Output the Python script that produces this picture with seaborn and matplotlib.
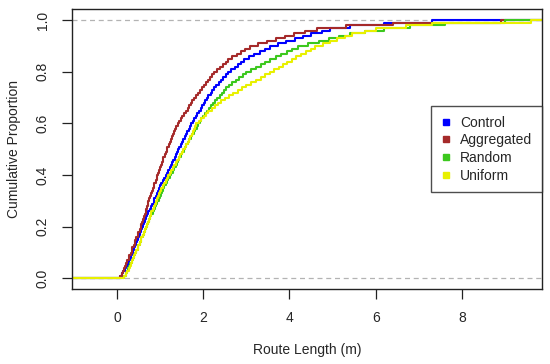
import numpy as np
import pandas as pd
import matplotlib
matplotlib.use("Agg")
import matplotlib.pyplot as plt
import seaborn as sns

# route lengths (m), 100 per group
control = [0.08, 0.12, 0.15, 0.19, 0.22, 0.25, 0.28, 0.30, 0.33, 0.36,
           0.38, 0.40, 0.43, 0.45, 0.47, 0.49, 0.51, 0.54, 0.56, 0.58,
           0.60, 0.63, 0.65, 0.68, 0.70, 0.73, 0.76, 0.79, 0.82, 0.85,
           0.87, 0.90, 0.92, 0.95, 0.97, 1.00, 1.03, 1.07, 1.10, 1.13,
           1.16, 1.19, 1.22, 1.25, 1.28, 1.31, 1.34, 1.36, 1.39, 1.42,
           1.45, 1.48, 1.51, 1.54, 1.57, 1.60, 1.63, 1.66, 1.69, 1.72,
           1.76, 1.79, 1.83, 1.86, 1.90, 1.94, 1.97, 2.01, 2.04, 2.08,
           2.12, 2.17, 2.21, 2.26, 2.30, 2.36, 2.41, 2.47, 2.52, 2.58,
           2.65, 2.73, 2.80, 2.88, 2.95, 3.07, 3.19, 3.31, 3.43, 3.55,
           3.74, 3.93, 4.12, 4.31, 4.50, 4.75, 4.95, 5.40, 6.20, 7.30]
aggregated = [0.07, 0.12, 0.14, 0.17, 0.19, 0.22, 0.24, 0.27, 0.29, 0.32,
              0.34, 0.36, 0.39, 0.41, 0.43, 0.45, 0.48, 0.50, 0.53, 0.55,
              0.57, 0.59, 0.61, 0.63, 0.65, 0.67, 0.68, 0.70, 0.71, 0.73,
              0.75, 0.77, 0.79, 0.81, 0.83, 0.85, 0.87, 0.90, 0.92, 0.94,
              0.96, 0.98, 1.00, 1.02, 1.04, 1.06, 1.08, 1.11, 1.13, 1.15,
              1.17, 1.20, 1.22, 1.25, 1.27, 1.30, 1.33, 1.35, 1.38, 1.41,
              1.45, 1.49, 1.52, 1.56, 1.60, 1.64, 1.67, 1.71, 1.74, 1.78,
              1.83, 1.88, 1.92, 1.97, 2.02, 2.07, 2.12, 2.16, 2.21, 2.26,
              2.32, 2.39, 2.45, 2.52, 2.58, 2.68, 2.78, 2.88, 2.98, 3.08,
              3.28, 3.49, 3.69, 3.90, 4.10, 4.35, 4.65, 5.30, 6.40, 8.90]
random_ = [0.17, 0.20, 0.23, 0.26, 0.28, 0.31, 0.34, 0.37, 0.40, 0.43,
           0.45, 0.48, 0.50, 0.53, 0.55, 0.57, 0.60, 0.62, 0.65, 0.67,
           0.70, 0.72, 0.75, 0.77, 0.80, 0.83, 0.86, 0.88, 0.91, 0.94,
           0.97, 0.99, 1.02, 1.04, 1.07, 1.10, 1.13, 1.16, 1.19, 1.22,
           1.25, 1.29, 1.32, 1.36, 1.39, 1.42, 1.45, 1.49, 1.52, 1.55,
           1.58, 1.61, 1.65, 1.68, 1.71, 1.74, 1.78, 1.81, 1.85, 1.88,
           1.92, 1.96, 2.00, 2.04, 2.08, 2.13, 2.18, 2.22, 2.27, 2.32,
           2.38, 2.43, 2.49, 2.54, 2.60, 2.68, 2.76, 2.84, 2.92, 3.00,
           3.11, 3.22, 3.33, 3.44, 3.55, 3.68, 3.81, 3.94, 4.07, 4.20,
           4.44, 4.68, 4.92, 5.16, 5.40, 5.75, 6.20, 6.80, 7.60, 9.00]
uniform = [0.16, 0.21, 0.24, 0.27, 0.30, 0.33, 0.35, 0.38, 0.40, 0.43,
           0.45, 0.48, 0.50, 0.53, 0.55, 0.57, 0.60, 0.62, 0.65, 0.67,
           0.69, 0.71, 0.74, 0.76, 0.78, 0.80, 0.83, 0.85, 0.88, 0.90,
           0.93, 0.95, 0.98, 1.00, 1.03, 1.06, 1.09, 1.13, 1.16, 1.19,
           1.23, 1.26, 1.30, 1.33, 1.37, 1.40, 1.44, 1.47, 1.51, 1.54,
           1.57, 1.60, 1.64, 1.67, 1.70, 1.73, 1.76, 1.78, 1.81, 1.84,
           1.90, 1.95, 2.01, 2.06, 2.12, 2.20, 2.27, 2.35, 2.42, 2.50,
           2.60, 2.70, 2.80, 2.90, 3.00, 3.11, 3.22, 3.33, 3.44, 3.55,
           3.65, 3.75, 3.85, 3.95, 4.05, 4.16, 4.27, 4.38, 4.49, 4.60,
           4.77, 4.94, 5.11, 5.28, 5.45, 5.75, 6.00, 6.70, 7.30, 9.60]

groups = ["Control", "Aggregated", "Random", "Uniform"]
colors = ["#0000FF", "#A52A2A", "#3CC81E", "#E8F000"]
x_ticks = [0, 2, 4, 6, 8]
y_ticks = [0.0, 0.2, 0.4, 0.6, 0.8, 1.0]

df = pd.concat([
    pd.DataFrame({"length": control, "group": "Control"}),
    pd.DataFrame({"length": aggregated, "group": "Aggregated"}),
    pd.DataFrame({"length": random_, "group": "Random"}),
    pd.DataFrame({"length": uniform, "group": "Uniform"}),
])

sns.set_style("ticks")
plt.rcParams["font.family"] = ["Liberation Sans", "DejaVu Sans"]

fig = plt.figure(figsize=(5.5, 3.64), dpi=100)
ax = fig.add_axes([0.131, 0.206, 0.854, 0.769])

xlim = (-1.04, 9.85)
ax.axhline(0, color="#B3B3B3", lw=0.9, ls=(0, (4, 3)), zorder=1)
ax.axhline(1, color="#B3B3B3", lw=0.9, ls=(0, (4, 3)), zorder=1)

for g, c in zip(groups, colors):
    vals = df.loc[df["group"] == g, "length"]
    sns.ecdfplot(x=vals, ax=ax, color=c, lw=1.5, label=g)
    # horizontal tails like R's plot.ecdf
    ax.hlines(0, xlim[0], vals.min(), color=c, lw=1.5)
    ax.hlines(1, vals.max(), xlim[1], color=c, lw=1.5)

ax.set_xlim(*xlim)
ax.set_ylim(-0.041, 1.043)
ax.set_xticks(x_ticks)
ax.set_yticks(y_ticks)
ax.set_yticklabels([f"{v:.1f}" for v in y_ticks], rotation=90, va="center")
ax.tick_params(axis="both", length=7, width=0.9, labelsize=10, pad=9, color="#222222")
ax.set_xlabel("")
ax.set_ylabel("")
for s in ax.spines.values():
    s.set_visible(True)
    s.set_linewidth(1.0)
    s.set_color("#222222")

fig.text(307 / 550, 1 - 350 / 364, "Route Length (m)", ha="center", va="center", fontsize=10)
fig.text(14 / 550, 1 - 149 / 364, "Cumulative Proportion", ha="center", va="center",
         rotation=90, fontsize=10)

handles = [plt.Line2D([], [], ls="", marker="s", ms=4.5, color=c) for c in colors]
leg = ax.legend(handles, groups, loc="upper right", bbox_to_anchor=(1.0, 0.654),
                borderaxespad=0, frameon=True, fancybox=False, fontsize=10,
                handlelength=0.8, handletextpad=0.6, labelspacing=0.26,
                borderpad=0.7)
leg.get_frame().set_edgecolor("#222222")
leg.get_frame().set_linewidth(1.0)

fig.savefig("out.png", dpi=100)
